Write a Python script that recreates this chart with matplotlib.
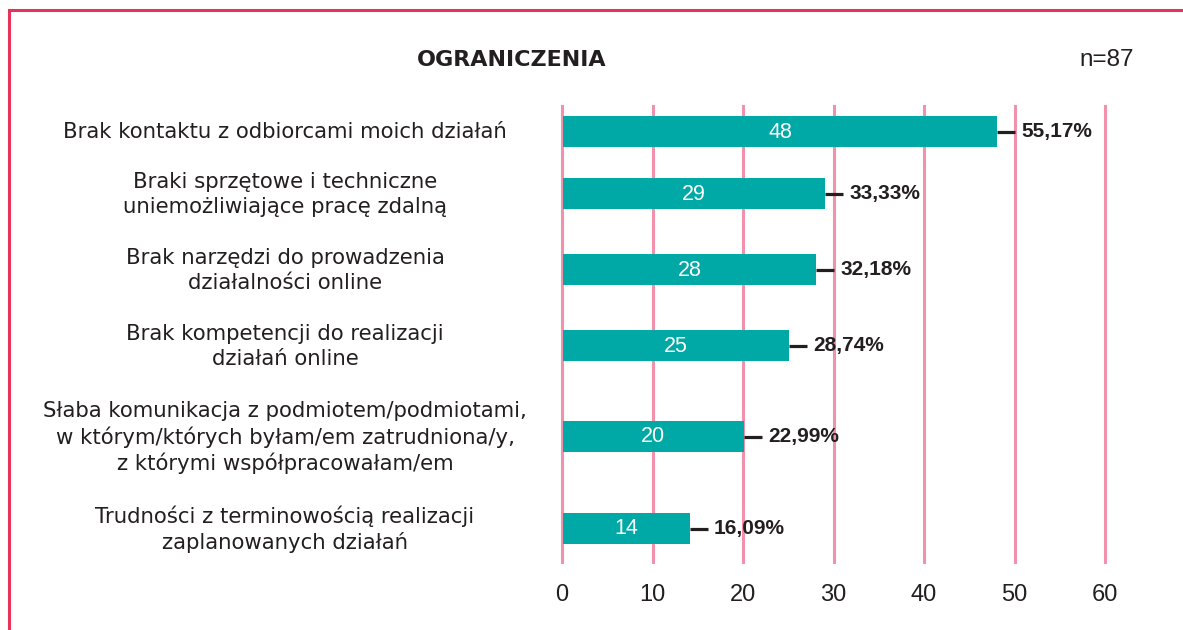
import matplotlib
matplotlib.use("Agg")
import matplotlib.pyplot as plt
from matplotlib.lines import Line2D

categories = [
    "Brak kontaktu z odbiorcami moich działań",
    "Braki sprzętowe i techniczne\nuniemożliwiające pracę zdalną",
    "Brak narzędzi do prowadzenia\ndziałalności online",
    "Brak kompetencji do realizacji\ndziałań online",
    "Słaba komunikacja z podmiotem/podmiotami,\nw którym/których byłam/em zatrudniona/y,\nz którymi współpracowałam/em",
    "Trudności z terminowością realizacji\nzaplanowanych działań",
]
counts = [48, 29, 28, 25, 20, 14]
percent_labels = ["55,17%", "33,33%", "32,18%", "28,74%", "22,99%", "16,09%"]
xticks = [0, 10, 20, 30, 40, 50, 60]
title = "OGRANICZENIA"
n_label = "n=87"

W, H = 1183, 630
plt.rcParams['font.family'] = ['Liberation Sans', 'DejaVu Sans']
fig = plt.figure(figsize=(W / 100, H / 100), dpi=100)

# layout in pixels
ax_left, ax_right = 562, 1105
ax_top, ax_bot = 106, 562
ax = fig.add_axes([ax_left / W, 1 - ax_bot / H, (ax_right - ax_left) / W, (ax_bot - ax_top) / H])
ax.set_xlim(0, 60)
ax.set_ylim(ax_bot, ax_top)  # pixel-like y coordinates, top to bottom

bar_centers = [131.5, 193.5, 269.5, 345.5, 436.5, 528.5]
bar_h = 31
teal = "#00a9a5"
pink = "#f291ac"
dark = "#231f20"
label_x = (285 - ax_left) / ((ax_right - ax_left) / 60)

for x in xticks:
    ax.axvline(x, color=pink, lw=2.2, zorder=0, clip_on=False)

ax.barh(bar_centers, counts, height=bar_h, color=teal, zorder=2, left=0.1)
for yc, c, p, lab in zip(bar_centers, counts, percent_labels, categories):
    ax.text(c / 2 + 0.1, yc + 0.5, str(c), color="white", ha="center", va="center",
            fontsize=15.5, zorder=3)
    ax.plot([c + 0.1, c + 2.1], [yc, yc], color=dark, lw=2.3, zorder=3,
            solid_capstyle="butt")
    ax.text(c + 2.75, yc, p, color=dark, ha="left", va="center", fontsize=15,
            fontweight="bold", zorder=3)
    ax.text(label_x, yc + 1, lab, color=dark, ha="center", va="center",
            fontsize=15.3, family="DejaVu Sans", linespacing=1.3, clip_on=False)

ax.set_xticks(xticks)
ax.set_xticklabels([str(x) for x in xticks], fontsize=17, color=dark)
ax.tick_params(axis="x", length=0, pad=16)
ax.set_yticks([])
for s in ax.spines.values():
    s.set_visible(False)

fig.text(512 / W, 1 - 60 / H, title, ha="center", va="center", fontsize=16,
         fontweight="bold", family="DejaVu Sans", color=dark)
fig.text(1107 / W, 1 - 60 / H, n_label, ha="center", va="center", fontsize=17.5, color=dark)

# red frame
red = "#e8325a"
fig.add_artist(Line2D([8.5 / W, 8.5 / W], [0, 1 - 10 / H], color=red, lw=2.2,
                      transform=fig.transFigure))
fig.add_artist(Line2D([8.5 / W, 1], [1 - 10 / H, 1 - 10 / H], color=red, lw=2.2,
                      transform=fig.transFigure))

fig.savefig("out.png", dpi=100)
